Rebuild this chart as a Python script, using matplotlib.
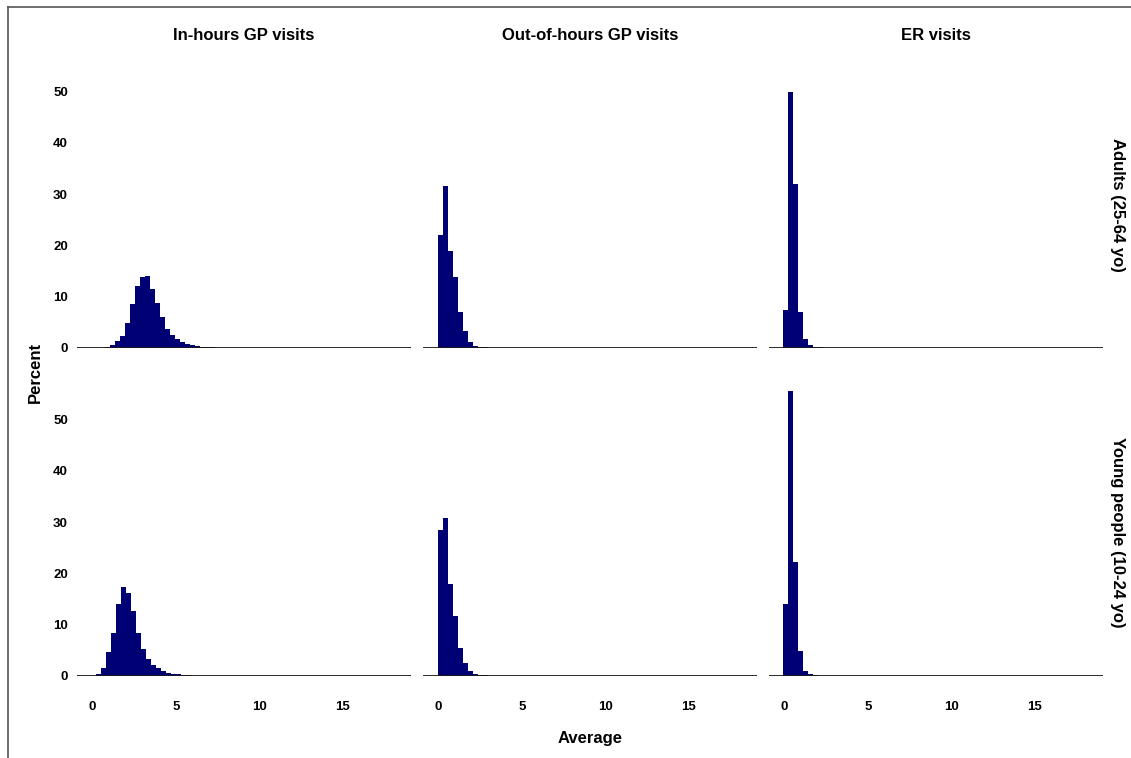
import matplotlib
matplotlib.use("Agg")
import matplotlib.pyplot as plt
import numpy as np

plt.rcParams['font.family'] = ['Liberation Sans', 'DejaVu Sans']

# ---------------- data (percent per bin, bin width in "Average" units) ----------------
col_titles = ["In-hours GP visits", "Out-of-hours GP visits", "ER visits"]
row_titles = ["Adults (25-64 yo)", "Young people (10-24 yo)"]
bin_width = 0.3

# Adults
adult_inhours_start = 0.75
adult_inhours = [0.25, 0.5, 1.4, 2.4, 4.9, 8.5, 12.0, 13.9, 14.1, 11.6, 8.7, 6.1, 3.8,
                 2.6, 1.7, 1.2, 0.8, 0.5, 0.35, 0.25, 0.15, 0.1, 0.08, 0.05, 0.04, 0.03, 0.02]
adult_ooh_start = -0.05
adult_ooh = [22.0, 31.6, 18.9, 13.9, 7.0, 3.3, 1.2, 0.45, 0.25, 0.12, 0.06, 0.03]
adult_er_start = -0.08
adult_er = [7.5, 49.9, 32.0, 7.0, 1.8, 0.65, 0.26, 0.1, 0.05]

# Young people
young_inhours_start = 0.2
young_inhours = [0.4, 1.5, 4.7, 8.3, 14.0, 17.3, 16.1, 12.7, 8.3, 5.2, 3.3, 2.1, 1.5,
                 1.0, 0.65, 0.45, 0.3, 0.2, 0.12, 0.08, 0.05, 0.03]
young_ooh_start = -0.05
young_ooh = [28.5, 30.8, 18.0, 11.7, 5.4, 2.5, 1.0, 0.45, 0.2, 0.1, 0.05]
young_er_start = -0.08
young_er = [14.1, 55.6, 22.2, 4.9, 1.0, 0.3, 0.1, 0.05]

panels = [
    [(adult_inhours_start, adult_inhours), (adult_ooh_start, adult_ooh), (adult_er_start, adult_er)],
    [(young_inhours_start, young_inhours), (young_ooh_start, young_ooh), (young_er_start, young_er)],
]

x_ticks = [0, 5, 10, 15]
y_ticks = [0, 10, 20, 30, 40, 50]
x_range = (-0.92, 19.1)
y_range = (0, 55.9)

# ---------------- figure ----------------
W, H = 1131, 758
fig = plt.figure(figsize=(W / 100, H / 100), dpi=100)

bar_color = '#000075'
col_lefts = [77, 423, 769]
col_w = 334
row_bottoms = [348, 676]   # pixel y of the zero line
row_h = 286.5

def px(x, y):
    return x / W, 1 - y / H

for r in range(2):
    for c in range(3):
        l, b = px(col_lefts[c], row_bottoms[r])
        ax = fig.add_axes([l, b, col_w / W, row_h / H])
        start, vals = panels[r][c]
        lefts = [start + i * bin_width for i in range(len(vals))]
        ax.bar(lefts, vals, width=bin_width, align='edge', color=bar_color,
               linewidth=0, zorder=2)
        ax.axhline(0, color='#1a1a1a', lw=1.3, zorder=3)
        ax.set_xlim(*x_range)
        ax.set_ylim(*y_range)
        for s in ax.spines.values():
            s.set_visible(False)
        ax.set_xticks(x_ticks)
        ax.set_yticks(y_ticks)
        ax.tick_params(length=0, labelsize=9.5)
        ax.tick_params(axis='x', pad=18)
        ax.tick_params(axis='y', pad=6.5)
        if r == 1:
            ax.set_xticklabels([str(t) for t in x_ticks], fontweight='bold')
        else:
            ax.set_xticklabels([])
        if c == 0:
            ax.set_yticklabels([str(t) for t in y_ticks], fontweight='bold')
        else:
            ax.set_yticklabels([])
        ax.patch.set_visible(False)

# column strip titles
for c in range(3):
    x = col_lefts[c] + col_w / 2
    fig.text(*px(x, 35), col_titles[c], ha='center', va='center',
             fontsize=12, fontweight='bold')

# row strip titles
for r in range(2):
    y = row_bottoms[r] - row_h / 2
    fig.text(*px(1117, y), row_titles[r], ha='center', va='center',
             rotation=-90, fontsize=12, fontweight='bold')

# axis labels
fig.text(*px(35, 372), "Percent", ha='center', va='center', rotation=90,
         fontsize=12, fontweight='bold')
fig.text(*px(590, 738), "Average", ha='center', va='center',
         fontsize=12, fontweight='bold')

# outer frame (top and left edges visible)
fig.add_artist(plt.Line2D([8 / W, 8 / W], [1 - 7 / H, 0], transform=fig.transFigure,
                          color='#555555', lw=1.2))
fig.add_artist(plt.Line2D([8 / W, 1.0], [1 - 7 / H, 1 - 7 / H], transform=fig.transFigure,
                          color='#555555', lw=1.2))

fig.savefig("out.png", dpi=100)
